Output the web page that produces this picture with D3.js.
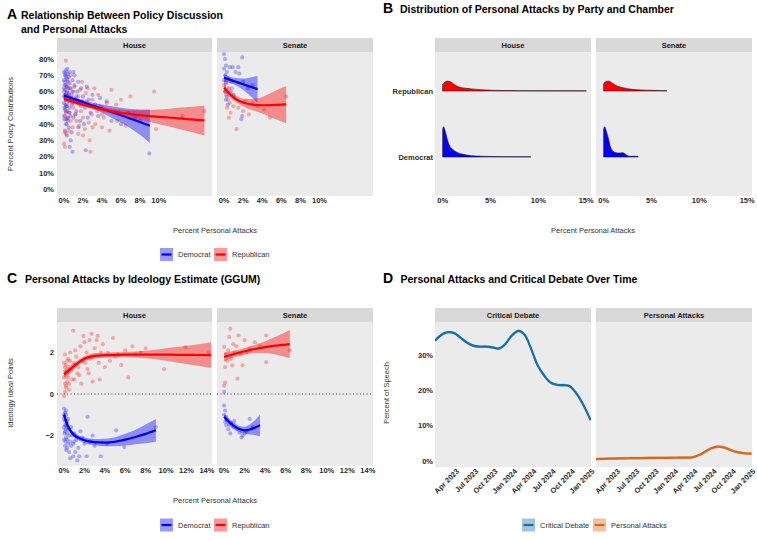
<!DOCTYPE html>
<html>
<head>
<meta charset="utf-8">
<style>
body { margin: 0; background: #fff; }
text { font-family: "Liberation Sans", Arial, sans-serif; }
.tick-lab { font-size: 7.5px; font-weight: bold; fill: #2b2b2b; }
.strip-lab { font-size: 7.5px; font-weight: bold; fill: #1a1a1a; }
.ax-title { font-size: 7.5px; fill: #333; }
.leg-lab { font-size: 7.5px; fill: #333; }
.ptitle { font-size: 10.5px; font-weight: bold; fill: #000; }
.pletter { font-size: 14px; font-weight: bold; fill: #000; }
</style>
</head>
<body>
<script src="https://cdn.jsdelivr.net/npm/d3@7"></script>
<script>
// ---------- data ----------
var chambers = ["House", "Senate"];
var parties = ["Democrat", "Republican"];
var partyColor = {Democrat: "#0000ff", Republican: "#ff0000"};

// Panel A points: [percent personal attacks, percent policy contributions]
var aHouseDem = [[0.0,72],[0.1,70],[0.2,73],[0.3,68],[0.1,66],[0.4,71],[0.5,69],[0.2,64],[0.0,62],[0.3,60],[0.6,65],[0.1,58],[0.4,57],[0.2,55],[0.7,62],[0.0,53],[0.3,51],[0.5,54],[0.1,49],[0.2,47],[0.6,50],[0.0,45],[0.4,44],[0.8,58],[0.9,67],[1.0,72],[1.1,63],[0.2,40],[0.5,38],[0.1,36],[0.3,33],[0.7,30],[0.6,26],[0.9,23],[0.4,42],[1.2,55],[1.4,60],[1.5,66],[1.3,48],[1.6,52],[1.8,62],[2.0,57],[2.2,50],[2.4,63],[2.6,55],[2.8,47],[3.0,58],[1.0,44],[1.7,42],[2.1,40],[0.8,35],[3.3,52],[3.6,45],[4.0,50],[4.5,54],[5.0,42],[6.0,40],[2.3,24],[9.0,22],[0.0,67],[0.1,61],[0.2,69],[0.3,63],[0.5,59],[0.6,72],[0.8,52],[1.1,70],[1.2,46],[0.0,57],[0.4,66],[0.7,45],[1.9,54],[2.5,44],[3.8,56],[1.5,38],[0.2,51],[0.9,60],[1.3,57],[0.05,43],[0.35,48],[0.15,71],[0.25,59],[0.45,62],[0.05,64],[0.55,47],[0.15,52],[0.65,56],[0.35,74],[0.05,50],[0.25,43]];
var aHouseRep = [[0.2,79],[0.0,60],[0.1,56],[0.3,52],[0.5,58],[0.2,48],[0.4,44],[0.6,62],[0.8,55],[1.0,50],[0.1,35],[0.2,34],[0.0,28],[0.1,26],[0.3,40],[0.7,42],[1.0,60],[1.2,46],[1.4,53],[1.5,57],[1.7,61],[1.8,48],[2.0,44],[2.1,52],[2.3,59],[2.5,62],[2.6,41],[2.7,30],[2.8,23],[2.9,46],[3.0,55],[3.2,62],[3.3,40],[3.5,48],[3.8,51],[4.0,38],[4.2,44],[4.5,53],[4.8,36],[5.0,61],[5.3,47],[5.6,42],[6.0,55],[6.5,39],[7.0,57],[7.5,44],[8.0,42],[9.5,60],[9.7,37],[0.5,36],[0.9,38],[1.3,42],[1.6,39],[2.2,37],[1.1,64],[0.4,67],[0.7,70],[1.9,66],[2.4,54],[3.6,58],[12.5,45],[14.8,48],[0.3,63],[0.6,47],[1.5,34],[2.0,33],[3.0,38],[4.0,46],[5.5,52],[6.8,47],[0.1,45],[0.9,53],[1.2,55],[1.8,51]];
var aSenateDem = [[0.0,83],[0.1,80],[0.2,76],[0.0,74],[0.3,72],[0.1,70],[0.4,68],[0.6,75],[0.9,75],[1.5,75],[1.9,81],[1.6,71],[1.2,72],[0.2,65],[0.5,62],[0.1,60],[0.3,57],[0.7,60],[0.8,66],[2.0,66],[2.5,62],[0.2,55],[0.4,52],[1.9,45],[1.8,43],[3.0,64],[1.0,58],[0.0,67]];
var aSenateRep = [[0.0,64],[0.1,60],[0.2,58],[0.4,55],[0.6,53],[0.3,50],[0.7,47],[0.5,44],[1.0,51],[1.3,37],[1.5,50],[2.0,48],[2.6,46],[3.0,53],[3.5,51],[4.2,49],[4.8,44],[6.5,57],[0.8,62],[1.1,56],[0.2,66],[2.2,54]];
// Panel A fitted curves: [x, fit, lower, upper]
var aFitHouseDem = [[0,57.5,55.8,59.2],[1,55.5,54.2,56.8],[2,53.5,52.2,54.8],[3,51.5,49.8,53.2],[4,49.5,47,52],[5,47.5,44,51],[6,45.5,41,50],[7,43.4,37.5,49.3],[8,41.3,33.5,49],[9.05,39,28.5,49]];
var aFitHouseRep = [[0,55.5,54,57],[1,53.6,52.5,54.7],[2,52,51,53.2],[3,50.5,49.3,51.7],[4,49.2,47.8,50.6],[5,48,46.4,49.6],[6,47,45,49],[7,46.2,43.8,48.6],[8,45.5,42.5,48.5],[9,45,41.3,48.7],[10,44.5,40,49],[11,44.1,38.7,49.5],[12,43.6,37.2,50],[13,43.1,35.8,50.5],[14,42.6,34.3,51],[14.8,42.3,33,51.5]];
var aFitSenateDem = [[0,68.5,66,71],[1,66.5,64.5,68.5],[2,64.5,61,68],[3,62.5,56,69],[3.5,61.5,53,69.5]];
var aFitSenateRep = [[0,62.5,60,65],[0.5,59,57,61],[1,56.5,54.5,58.5],[1.5,54.5,52.5,56.5],[2,53.3,51,55.6],[2.5,52.5,49.5,55.5],[3,52,48.5,55.5],[4,51.6,46.5,56.7],[5,51.7,44,59.4],[6,52,41.8,62.2],[6.5,52.2,40.6,63.5]];
var aXTicks = [0, 2, 4, 6, 8, 10];
var aYTicks = [0, 10, 20, 30, 40, 50, 60, 70, 80];

// Panel B ridges: [percent personal attacks, relative density height]
var bHouseRep = [[0,0.10],[0.2,0.13],[0.5,0.15],[0.8,0.14],[1.2,0.10],[1.6,0.065],[2,0.05],[2.5,0.04],[3,0.032],[4,0.02],[5,0.012],[6,0.008],[8,0.005],[10,0.004],[12,0.003],[15,0.002]];
var bHouseDem = [[0,0.42],[0.1,0.46],[0.25,0.40],[0.5,0.26],[0.75,0.16],[1,0.12],[1.5,0.07],[2,0.045],[2.5,0.03],[3,0.02],[4,0.012],[5,0.008],[7,0.005],[9.2,0.004]];
var bSenateRep = [[0,0.11],[0.2,0.14],[0.5,0.15],[0.8,0.13],[1.2,0.09],[1.6,0.065],[2,0.05],[2.5,0.035],[3,0.025],[4,0.015],[5,0.01],[6.6,0.005]];
var bSenateDem = [[0,0.42],[0.1,0.46],[0.3,0.38],[0.5,0.28],[0.7,0.16],[0.9,0.1],[1.2,0.07],[1.6,0.06],[2,0.065],[2.2,0.05],[2.5,0.02],[2.8,0.01],[3.3,0.012],[3.6,0.008]];
var bXTicks = [0, 5, 10, 15];

// Panel C points: [percent personal attacks, ideal point]
var cHouseRep = [[0.9,3.05],[0.1,0.1],[0.0,-0.1],[0.2,0.3],[0.1,0.5],[0.3,0.6],[0.0,0.8],[0.2,0.9],[0.4,1.0],[0.1,1.1],[0.3,1.2],[0.5,1.3],[0.2,1.4],[0.0,1.5],[0.6,1.6],[0.4,1.7],[0.1,1.9],[0.7,1.1],[0.8,0.7],[0.5,0.5],[1.0,1.5],[1.2,1.8],[1.1,2.1],[1.4,1.3],[1.5,0.9],[1.6,2.3],[1.8,1.6],[2.0,2.5],[2.2,2.0],[2.3,1.2],[2.5,2.6],[2.6,1.7],[2.8,0.6],[3.0,2.2],[3.2,2.6],[3.4,1.5],[3.6,2.0],[3.8,2.4],[4.0,1.3],[4.3,2.0],[4.5,1.6],[4.8,2.7],[5.0,1.8],[5.3,1.9],[5.6,1.4],[6.0,2.1],[6.3,0.8],[6.7,2.3],[7.0,1.9],[7.5,2.0],[8.0,2.2],[9.8,1.2],[11.9,2.26],[14.2,2.0],[0.2,0.4],[0.3,1.6],[0.6,2.0],[0.9,1.4],[1.3,1.0],[1.7,0.5],[2.1,1.5],[2.7,2.9],[3.3,2.8],[1.9,2.8],[0.5,0.2],[0.1,1.3],[0.4,0.8],[1.0,0.7],[2.4,1.0],[3.5,0.7]];
var cHouseDem = [[0.0,-0.7],[0.1,-0.9],[0.2,-1.0],[0.0,-1.2],[0.1,-1.3],[0.3,-1.4],[0.2,-1.5],[0.0,-1.6],[0.4,-1.7],[0.1,-1.8],[0.3,-1.9],[0.5,-2.0],[0.2,-2.1],[0.0,-2.2],[0.6,-2.3],[0.4,-2.4],[0.1,-2.5],[0.3,-2.6],[0.7,-1.6],[0.8,-2.0],[0.9,-2.4],[1.0,-1.9],[1.1,-2.8],[1.2,-2.2],[1.4,-2.6],[1.5,-3.0],[0.5,-2.8],[0.6,-3.1],[0.9,-3.0],[1.3,-3.2],[1.8,-2.1],[2.0,-2.4],[2.2,-3.0],[2.3,-1.1],[2.5,-2.3],[2.8,-2.0],[3.0,-2.5],[3.6,-3.0],[4.2,-2.4],[5.1,-1.75],[5.9,-2.56],[9.0,-1.59],[0.2,-0.8],[0.0,-1.0],[0.1,-1.5],[0.3,-2.2],[0.4,-1.2],[0.2,-2.7],[0.7,-2.5],[1.6,-1.8],[1.0,-2.3],[0.05,-1.1],[0.15,-1.7],[0.25,-1.3],[0.05,-1.9],[0.35,-1.6],[0.15,-2.3]];
var cSenateRep = [[0.6,3.15],[1.4,2.82],[4.1,2.82],[0.5,2.75],[2.0,2.6],[0.0,2.27],[4.1,1.54],[1.3,0.74],[0.1,0.55],[0.0,0.4],[6.4,2.1],[0.8,1.38],[1.8,1.38],[0.2,1.9],[0.4,2.1],[0.7,1.7],[1.0,2.0],[1.2,2.3],[0.3,1.6],[2.5,2.2],[3.0,2.5],[1.6,1.9],[0.1,1.3],[2.2,2.0],[3.5,2.3],[0.9,2.4]];
var cSenateDem = [[0.0,0.1],[0.0,-0.55],[0.1,-0.8],[0.0,-1.0],[0.2,-1.1],[0.3,-1.25],[0.1,-1.35],[0.5,-1.5],[0.7,-1.4],[0.9,-1.6],[1.2,-1.7],[1.5,-1.85],[1.8,-2.0],[2.0,-1.9],[2.2,-1.8],[2.5,-1.2],[0.4,-1.7],[0.6,-1.9],[1.0,-1.3],[1.7,-2.1],[2.8,-1.6],[0.2,-1.5]];
var cFitHouseDem = [[0,-1.0,-1.2,-0.8],[0.3,-1.45,-1.6,-1.3],[0.6,-1.75,-1.88,-1.62],[1,-1.98,-2.1,-1.86],[1.5,-2.13,-2.25,-2.01],[2,-2.23,-2.36,-2.1],[3,-2.32,-2.47,-2.17],[4,-2.34,-2.52,-2.16],[5,-2.3,-2.52,-2.08],[6,-2.2,-2.48,-1.92],[7,-2.07,-2.42,-1.72],[8,-1.92,-2.37,-1.47],[9,-1.75,-2.3,-1.2]];
var cFitHouseRep = [[0,0.95,0.8,1.1],[0.5,1.15,1.02,1.28],[1,1.35,1.22,1.48],[1.5,1.55,1.42,1.68],[2,1.7,1.57,1.83],[2.5,1.79,1.66,1.92],[3,1.84,1.71,1.97],[4,1.87,1.75,1.99],[5,1.89,1.77,2.01],[6,1.9,1.77,2.03],[7,1.9,1.75,2.05],[8,1.9,1.72,2.08],[9,1.9,1.67,2.13],[10,1.9,1.6,2.2],[11,1.89,1.52,2.26],[12,1.89,1.45,2.33],[13,1.88,1.37,2.39],[14.4,1.87,1.25,2.5]];
var cFitSenateDem = [[0,-1.1,-1.25,-0.95],[0.5,-1.35,-1.5,-1.2],[1,-1.55,-1.7,-1.4],[1.5,-1.69,-1.84,-1.54],[2,-1.75,-1.92,-1.58],[2.5,-1.71,-1.95,-1.47],[3,-1.62,-1.98,-1.26],[3.5,-1.5,-2.05,-1.0]];
var cFitSenateRep = [[0,1.78,1.55,2.0],[1,1.93,1.78,2.08],[2,2.06,1.9,2.22],[3,2.17,1.98,2.36],[4,2.26,1.98,2.54],[5,2.33,1.9,2.76],[6,2.38,1.78,2.98],[6.4,2.4,1.72,3.08]];
var cXTicks = [0, 2, 4, 6, 8, 10, 12, 14];
var cYTicks = [-2, 0, 2];

// Panel D: monthly smoothed shares of speech (percent)
var dDates = ["2023-01-01","2023-02-01","2023-03-01","2023-04-01","2023-05-01","2023-06-01","2023-07-01","2023-08-01","2023-09-01","2023-10-01","2023-11-01","2023-12-01","2024-01-01","2024-02-01","2024-03-01","2024-04-01","2024-05-01","2024-06-01","2024-07-01","2024-08-01","2024-09-01","2024-10-01","2024-11-01","2024-12-01","2025-01-08"];
var dCritical = [34.1,35.8,36.5,36.3,35.0,33.6,32.7,32.4,32.4,32.2,31.9,33.2,35.6,36.9,35.8,31.8,27.2,24.3,22.3,21.6,21.5,21.2,19.2,16.3,11.6];
var dAttacks = [0.55,0.6,0.65,0.7,0.74,0.78,0.8,0.83,0.86,0.88,0.9,0.9,0.92,0.93,0.95,1.05,1.6,2.6,3.6,4.05,3.8,3.1,2.5,2.2,2.1];
var dSeries = ["Critical Debate", "Personal Attacks"];
var dColor = {"Critical Debate": "#1170aa", "Personal Attacks": "#d4691c"};
var dTickDates = ["2023-04-01","2023-07-01","2023-10-01","2024-01-01","2024-04-01","2024-07-01","2024-10-01","2025-01-01"];
var dYTicks = [0, 10, 20, 30];

// ---------- drawing ----------
var svg = d3.select("body").append("svg").attr("width", 757).attr("height", 541);
var stripH = 14;
var clipN = 0;

function facet(x0, x1, top, bottom, label) {
  svg.append("rect").attr("x", x0).attr("y", top).attr("width", x1 - x0).attr("height", stripH).attr("fill", "#d9d9d9");
  svg.append("text").attr("class", "strip-lab").attr("x", (x0 + x1) / 2).attr("y", top + stripH / 2)
    .attr("dy", "0.35em").attr("text-anchor", "middle").text(label);
  svg.append("rect").attr("x", x0).attr("y", top + stripH).attr("width", x1 - x0).attr("height", bottom - top - stripH).attr("fill", "#ebebeb");
  var id = "clip" + (clipN++);
  svg.append("clipPath").attr("id", id).append("rect")
    .attr("x", x0).attr("y", top + stripH).attr("width", x1 - x0).attr("height", bottom - top - stripH);
  return svg.append("g").attr("clip-path", "url(#" + id + ")");
}

function xTickLabels(x, ticks, y, fmt) {
  svg.append("g").selectAll("text").data(ticks).join("text")
    .attr("class", "tick-lab").attr("x", function(d) { return x(d); }).attr("y", y)
    .attr("dy", "0.71em").attr("text-anchor", "middle").text(fmt);
}
function yTickLabels(y, ticks, xr, fmt) {
  svg.append("g").selectAll("text").data(ticks).join("text")
    .attr("class", "tick-lab").attr("x", xr).attr("y", function(d) { return y(d); })
    .attr("dy", "0.35em").attr("text-anchor", "end").text(fmt);
}
function title(x, y, letter, lines, tx) {
  svg.append("text").attr("class", "pletter").attr("x", x).attr("y", y).text(letter);
  lines.forEach(function(l, i) {
    svg.append("text").attr("class", "ptitle").attr("x", tx).attr("y", y + i * 14).text(l);
  });
}
function axTitle(x, y, txt, rot) {
  var t = svg.append("text").attr("class", "ax-title").attr("text-anchor", "middle");
  if (rot) t.attr("transform", "translate(" + x + "," + y + ") rotate(-90)").attr("dy", "0.35em");
  else t.attr("x", x).attr("y", y).attr("dy", "0.35em");
  t.text(txt);
}
function legend(items, cy) {
  items.forEach(function(it) {
    var g = svg.append("g");
    g.append("rect").attr("x", it.x).attr("y", cy - 6.5).attr("width", 13).attr("height", 13)
      .attr("fill", it.color).attr("fill-opacity", 0.4);
    g.append("line").attr("x1", it.x + 1.5).attr("x2", it.x + 11.5).attr("y1", cy).attr("y2", cy)
      .attr("stroke", it.color).attr("stroke-width", 2.2);
    g.append("text").attr("class", "leg-lab").attr("x", it.x + 18).attr("y", cy).attr("dy", "0.35em").text(it.label);
  });
}

function scatterFacet(g, x, y, layers) {
  layers.forEach(function(l) {
    g.append("g").selectAll("circle").data(l.pts).join("circle")
      .attr("cx", function(d) { return x(d[0]); }).attr("cy", function(d) { return y(d[1]); })
      .attr("r", 2.1).attr("fill", partyColor[l.party]).attr("fill-opacity", 0.28);
  });
  layers.forEach(function(l) {
    var band = d3.area().x(function(d) { return x(d[0]); })
      .y0(function(d) { return y(d[2]); }).y1(function(d) { return y(d[3]); }).curve(d3.curveMonotoneX);
    var line = d3.line().x(function(d) { return x(d[0]); }).y(function(d) { return y(d[1]); }).curve(d3.curveMonotoneX);
    g.append("path").attr("d", band(l.fit)).attr("fill", partyColor[l.party]).attr("fill-opacity", 0.4);
    g.append("path").attr("d", line(l.fit)).attr("fill", "none").attr("stroke", partyColor[l.party]).attr("stroke-width", 2.2);
  });
}

var facetX = {House: [57, 212], Senate: [217, 373]};
var facetXR = {House: [435, 591], Senate: [596, 752]};

// ----- Panel A -----
title(7, 19, "A", ["Relationship Between Policy Discussion", "and Personal Attacks"], 21);
var yA = d3.scaleLinear().domain([-4.1, 84.3]).range([196, 52]);
var aData = {
  House: [{party: "Democrat", pts: aHouseDem, fit: aFitHouseDem}, {party: "Republican", pts: aHouseRep, fit: aFitHouseRep}],
  Senate: [{party: "Democrat", pts: aSenateDem, fit: aFitSenateDem}, {party: "Republican", pts: aSenateRep, fit: aFitSenateRep}]
};
chambers.forEach(function(c) {
  var x = d3.scaleLinear().domain([-0.74, 15.6]).range(facetX[c]);
  var g = facet(facetX[c][0], facetX[c][1], 38, 196, c);
  scatterFacet(g, x, yA, aData[c]);
  xTickLabels(x, aXTicks, 198, function(d) { return d + "%"; });
});
yTickLabels(yA, aYTicks, 54, function(d) { return d + "%"; });
axTitle(10, 124, "Percent Policy Contributions", true);
axTitle(215, 230, "Percent Personal Attacks", false);
legend([{x: 160, color: partyColor.Democrat, label: "Democrat"}, {x: 214, color: partyColor.Republican, label: "Republican"}], 254.5);

// ----- Panel B -----
title(383, 13, "B", ["Distribution of Personal Attacks by Party and Chamber"], 400);
var rowBase = {Republican: 91, Democrat: 157};
var hB = d3.scaleLinear().domain([0, 1]).range([0, 66]);
var bData = {
  House: {Republican: bHouseRep, Democrat: bHouseDem},
  Senate: {Republican: bSenateRep, Democrat: bSenateDem}
};
chambers.forEach(function(c) {
  var x = d3.scaleLinear().domain([-0.8, 15.5]).range(facetXR[c]);
  var g = facet(facetXR[c][0], facetXR[c][1], 38, 196, c);
  ["Republican", "Democrat"].forEach(function(p) {
    var base = rowBase[p];
    var area = d3.area().x(function(d) { return x(d[0]); }).y0(base)
      .y1(function(d) { return base - hB(d[1]); }).curve(d3.curveMonotoneX);
    g.append("path").attr("d", area(bData[c][p])).attr("fill", partyColor[p])
      .attr("stroke", "#1a1a1a").attr("stroke-width", 0.6);
  });
  xTickLabels(x, bXTicks, 198, function(d) { return d + "%"; });
});
svg.append("g").selectAll("text").data(["Republican", "Democrat"]).join("text")
  .attr("class", "tick-lab").attr("x", 433).attr("y", function(d) { return rowBase[d]; })
  .attr("dy", "0.35em").attr("text-anchor", "end").text(function(d) { return d; });
axTitle(593, 230, "Percent Personal Attacks", false);

// ----- Panel C -----
title(7, 282.5, "C", ["Personal Attacks by Ideology Estimate (GGUM)"], 25);
var yC = d3.scaleLinear().domain([-3.47, 3.47]).range([466, 322]);
var cData = {
  House: [{party: "Democrat", pts: cHouseDem, fit: cFitHouseDem}, {party: "Republican", pts: cHouseRep, fit: cFitHouseRep}],
  Senate: [{party: "Democrat", pts: cSenateDem, fit: cFitSenateDem}, {party: "Republican", pts: cSenateRep, fit: cFitSenateRep}]
};
chambers.forEach(function(c) {
  var x = d3.scaleLinear().domain([-0.69, 14.5]).range(facetX[c]);
  var g = facet(facetX[c][0], facetX[c][1], 308, 466, c);
  g.append("line").attr("x1", facetX[c][0]).attr("x2", facetX[c][1]).attr("y1", yC(0)).attr("y2", yC(0))
    .attr("stroke", "#333").attr("stroke-width", 1).attr("stroke-dasharray", "1,2.4");
  scatterFacet(g, x, yC, cData[c]);
  xTickLabels(x, cXTicks, 468, function(d) { return d + "%"; });
});
yTickLabels(yC, cYTicks, 54, function(d) { return d < 0 ? "\u2212" + (-d) : d; });
axTitle(10, 393, "Ideology Ideal Points", true);
axTitle(215, 500, "Percent Personal Attacks", false);
legend([{x: 160, color: partyColor.Democrat, label: "Democrat"}, {x: 214, color: partyColor.Republican, label: "Republican"}], 525);

// ----- Panel D -----
title(383, 282.5, "D", ["Personal Attacks and Critical Debate Over Time"], 400.5);
var parse = d3.timeParse("%Y-%m-%d");
var yD = d3.scaleLinear().domain([-1.7, 39.4]).range([467, 322]);
var dValues = {"Critical Debate": dCritical, "Personal Attacks": dAttacks};
dSeries.forEach(function(s, i) {
  var rng = i === 0 ? facetXR.House : facetXR.Senate;
  var x = d3.scaleTime().domain([parse("2023-01-01"), parse("2025-01-10")]).range(rng);
  var g = facet(rng[0], rng[1], 308, 467, s);
  var pts = dDates.map(function(d, k) { return [parse(d), dValues[s][k]]; });
  var band = d3.area().x(function(d) { return x(d[0]); })
    .y0(function(d) { return yD(d[1] - 0.4); }).y1(function(d) { return yD(d[1] + 0.4); }).curve(d3.curveCatmullRom);
  var line = d3.line().x(function(d) { return x(d[0]); }).y(function(d) { return yD(d[1]); }).curve(d3.curveCatmullRom);
  g.append("path").attr("d", band(pts)).attr("fill", dColor[s]).attr("fill-opacity", 0.35);
  g.append("path").attr("d", line(pts)).attr("fill", "none").attr("stroke", dColor[s]).attr("stroke-width", 2.2);
  var fmt = d3.timeFormat("%b %Y");
  svg.append("g").selectAll("text").data(dTickDates).join("text")
    .attr("class", "tick-lab")
    .attr("transform", function(d) { return "translate(" + (x(parse(d)) + 2) + ",468) rotate(-45)"; })
    .attr("dy", "0.71em").attr("text-anchor", "end").text(function(d) { return fmt(parse(d)); });
});
yTickLabels(yD, dYTicks, 433, function(d) { return d + "%"; });
axTitle(386, 393, "Percent of Speech", true);
legend([{x: 522, color: dColor["Critical Debate"], label: "Critical Debate"}, {x: 593, color: dColor["Personal Attacks"], label: "Personal Attacks"}], 525);
</script>
</body>
</html>
